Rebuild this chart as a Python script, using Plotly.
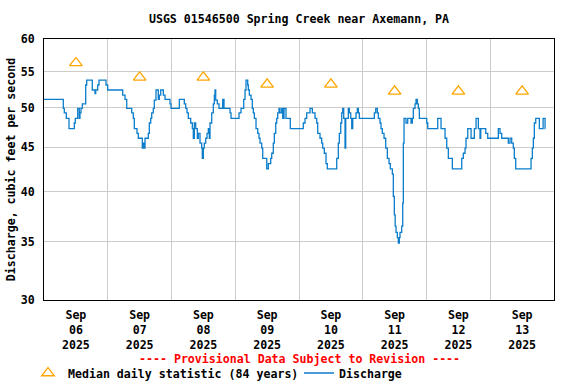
import math
import pandas as pd
import plotly.graph_objects as go

# ---------------- data ----------------
start_time = "2025-09-06 00:00"
end_time = "2025-09-14 00:00"

# hours since 2025-09-06 00:00 at which each discharge level begins
disch_hours = [
    0.00, 7.27, 7.64, 8.40, 9.41, 11.41, 11.78, 12.69, 13.29, 13.55, 13.93, 14.42,
    15.70, 16.08, 18.18, 19.20, 19.46, 20.22, 20.71, 23.34, 23.98, 29.63, 30.50,
    31.14, 33.02, 33.62, 34.00, 35.01, 35.50, 37.01, 37.39, 37.76, 38.03, 39.27,
    39.65, 40.17, 40.55, 41.15, 41.53, 42.17, 43.03, 43.41, 43.94, 44.92, 45.56,
    47.44, 47.82, 50.94, 52.82, 53.35, 53.84, 54.33, 55.23, 55.84, 56.21, 56.59,
    57.12, 57.72, 58.09, 58.73, 59.37, 59.60, 59.98, 60.35, 60.88, 61.37, 61.86,
    62.24, 62.50, 63.14, 63.74, 64.12, 64.38, 64.64, 65.25, 65.89, 67.28, 67.77,
    70.03, 70.41, 73.42, 74.17, 75.19, 75.68, 76.05, 76.69, 76.92, 77.30, 77.94,
    78.42, 78.80, 79.18, 79.82, 80.46, 80.95, 81.32, 81.96, 82.34, 83.85, 84.45,
    85.35, 85.73, 86.33, 86.71, 87.24, 87.61, 87.99, 88.48, 88.85, 89.49, 89.87,
    90.36, 91.11, 92.73, 97.62, 98.27, 98.91, 100.15, 101.02, 102.03, 102.67,
    103.05, 103.91, 104.55, 104.93, 105.53, 106.17, 106.66, 110.20, 110.80,
    111.18, 111.71, 112.09, 112.46, 112.84, 113.33, 113.59, 114.57, 114.95,
    115.47, 115.85, 116.23, 117.47, 117.96, 118.34, 118.71, 124.36, 124.89,
    125.49, 125.87, 126.50, 126.88, 127.37, 128.01, 128.65, 129.25, 129.89,
    130.38, 131.14, 131.51, 131.89, 132.20, 132.53, 133.02, 133.40, 133.77,
    134.03, 134.67, 135.05, 135.28, 135.54, 136.29, 136.93, 138.18, 138.66,
    139.04, 139.68, 140.06, 140.54, 140.92, 141.30, 144.09, 144.47, 148.23,
    149.47, 150.98, 151.62, 152.22, 153.73, 157.26, 157.86, 158.51, 158.88,
    159.53, 160.77, 162.01, 162.65, 163.52, 164.15, 164.42, 166.30, 167.05,
    171.04, 171.68, 172.32, 174.80, 175.44, 176.08, 176.68, 177.06, 177.59,
    183.36, 183.85, 184.22, 184.60, 185.13, 186.49, 187.90, 188.63, 188.80,
]
disch_cfs = [
    51.1, 49.9, 49.3, 48.6, 47.3, 48.0, 48.6, 49.9, 48.6, 49.3, 49.9, 50.5,
    53.1, 53.8, 52.4, 51.9, 52.4, 53.1, 53.8, 53.1, 52.4, 51.7, 51.1,
    49.9, 49.3, 48.6, 47.3, 46.7, 46.1, 44.9, 45.5, 44.9, 46.1, 46.7,
    48.0, 48.6, 49.3, 49.9, 51.0, 52.4, 51.1, 51.7, 52.4, 51.7, 51.1,
    50.5, 49.9, 51.1, 50.5, 49.9, 49.3, 48.6, 48.0, 47.3, 46.1, 48.0,
    47.3, 46.1, 46.7, 45.5, 44.9, 43.7, 44.9, 45.5, 46.1, 46.7, 47.3,
    46.1, 48.0, 49.3, 50.5, 51.7, 52.4, 51.0, 50.5, 49.9, 51.1, 49.9,
    49.3, 48.6, 49.3, 49.9, 51.1, 52.4, 53.8, 53.1, 52.4, 51.7, 51.1,
    49.9, 49.3, 48.6, 47.3, 46.7, 46.1, 45.5, 44.9, 43.7, 42.5, 43.1,
    43.7, 44.3, 45.5, 46.7, 48.0, 48.6, 49.3, 49.9, 49.3, 49.9, 48.6,
    49.9, 48.6, 47.3, 48.0, 48.6, 49.3, 49.9, 49.3, 48.6, 48.0,
    46.7, 46.1, 45.5, 44.9, 44.3, 43.1, 42.5, 43.7, 45.5,
    46.7, 48.0, 49.3, 49.9, 48.6, 44.9, 48.6, 49.9, 49.3,
    48.6, 47.3, 48.6, 49.3, 49.9, 49.3, 48.6, 49.3, 49.9,
    49.3, 48.6, 48.0, 47.3, 46.7, 46.1, 44.9, 43.7, 43.1,
    42.5, 41.9, 39.5, 37.6, 36.5, 35.9, 35.4, 34.9, 35.4,
    35.9, 36.5, 38.8, 45.5, 48.6, 48.0, 48.6, 48.0, 48.6,
    49.9, 50.5, 51.1, 50.5, 49.9, 48.6, 48.0, 47.3, 48.6,
    47.3, 46.1, 44.9, 43.7, 42.5, 43.7, 44.3, 44.9, 46.1,
    47.3, 46.1, 47.3, 48.6, 47.3, 46.1, 47.3, 46.7, 46.1,
    47.3, 46.7, 46.1, 45.5, 46.1, 45.5, 44.9, 43.7, 42.5,
    43.7, 44.9, 46.1, 48.0, 48.6, 47.3, 48.6, 47.3, 47.3,
]

median_days = ["2025-09-06", "2025-09-07", "2025-09-08", "2025-09-09",
               "2025-09-10", "2025-09-11", "2025-09-12", "2025-09-13"]
median_cfs = [56.3, 54.2, 54.2, 53.2, 53.2, 52.2, 52.2, 52.2]

tick_month = "Sep"
tick_days = ["06", "07", "08", "09", "10", "11", "12", "13"]
tick_year = "2025"
y_ticks = [30, 35, 40, 45, 50, 55, 60]

# ---------------- figure ----------------
base = pd.Timestamp(start_time)
disch_x = base + pd.to_timedelta(disch_hours, unit="h")
median_x = pd.to_datetime(median_days) + pd.Timedelta(hours=12)
tick_x = median_x
tick_text = [f"{tick_month}<br>{d}<br>{tick_year}" for d in tick_days]

FONT = "DejaVu Sans Mono"
FS = 11.6
L, R, T, B = 44, 22, 39, 84
W, H = 576, 384
ph = H - T - B
pw = W - L - R

fig = go.Figure()
fig.add_trace(go.Scatter(
    x=disch_x, y=disch_cfs, mode="lines", name="Discharge",
    line=dict(shape="hv", color="#0B7DCB", width=1.3),
    legend="legend2", hoverinfo="skip",
))
fig.add_trace(go.Scatter(
    x=median_x, y=median_cfs, mode="markers",
    name="Median daily statistic (84 years)",
    marker=dict(symbol="triangle-up-open", size=11, color="#FFA500",
                line=dict(width=1.3, color="#FFA500")),
    legend="legend", hoverinfo="skip",
))

fig.update_layout(
    width=W, height=H,
    margin=dict(l=L, r=R, t=T, b=B, autoexpand=False),
    paper_bgcolor="white", plot_bgcolor="white",
    font=dict(family=FONT, size=FS, color="black", weight="bold"),
    title=dict(text="USGS 01546500 Spring Creek near Axemann, PA",
               x=0.5, xref="paper", xanchor="center",
               y=1 - 19 / H, yref="container", yanchor="middle",
               font=dict(family=FONT, size=FS, weight="bold")),
    xaxis=dict(
        type="date", range=[start_time, end_time], automargin=False,
        tickmode="array", tickvals=tick_x, ticktext=tick_text,
        showgrid=False, zeroline=False, ticks="",
        showline=True, linecolor="black", linewidth=1, mirror=True,
        ticklabelstandoff=4,
        minor=dict(dtick=86400000, tick0=start_time, showgrid=True,
                   gridcolor="#cccccc", gridwidth=1, ticks=""),
        tickfont=dict(family=FONT, size=FS, weight="bold"),
    ),
    yaxis=dict(
        type="log", range=[math.log10(30), math.log10(60)], automargin=False,
        tickmode="array", tickvals=y_ticks, ticktext=[str(v) for v in y_ticks],
        showgrid=True, gridcolor="#cccccc", gridwidth=1, zeroline=False,
        ticks="", showline=True, linecolor="black", linewidth=1, mirror=True,
        ticklabelstandoff=6,
        tickfont=dict(family=FONT, size=FS, weight="bold"),
        title=dict(text="Discharge, cubic feet per second", standoff=2,
                   font=dict(family=FONT, size=FS, weight="bold")),
    ),
    showlegend=True,
    legend=dict(orientation="h", x=(28 - L) / pw, xanchor="left",
                y=(300 - 373) / ph, yanchor="middle",
                bgcolor="rgba(0,0,0,0)", itemwidth=30,
                font=dict(family=FONT, size=FS, weight="bold")),
    legend2=dict(orientation="h", x=(299 - L) / pw, xanchor="left",
                 y=(300 - 373) / ph, yanchor="middle",
                 bgcolor="rgba(0,0,0,0)", itemwidth=30,
                 font=dict(family=FONT, size=FS, weight="bold")),
    annotations=[dict(
        text="---- Provisional Data Subject to Revision ----",
        xref="paper", yref="paper", x=0.5, y=(300 - 359) / ph,
        xanchor="center", yanchor="middle", showarrow=False,
        font=dict(family=FONT, size=FS, color="red", weight="bold"),
    )],
)

fig.write_html(
    "out.html",
    config={"displayModeBar": False, "staticPlot": True},
    post_script="document.body.style.margin='0';document.body.style.overflow='hidden';",
)
